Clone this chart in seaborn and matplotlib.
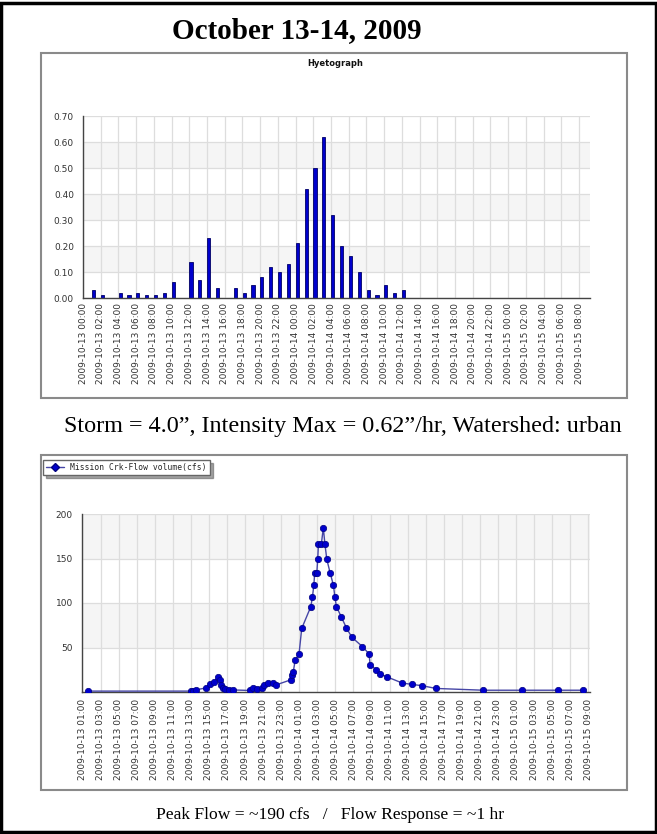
import numpy as np
import pandas as pd
import seaborn as sns
import matplotlib.pyplot as plt
from matplotlib.patches import Rectangle
from matplotlib.lines import Line2D
from matplotlib.ticker import MultipleLocator

# Hyetograph: hourly rainfall (in) from 2009-10-13 00:00
rain_hours = list(range(0, 57))
rain_in = [0.00, 0.03, 0.01, 0.00, 0.02, 0.01, 0.02, 0.01, 0.01, 0.02,
           0.06, 0.00, 0.14, 0.07, 0.23, 0.04, 0.00, 0.04, 0.02, 0.05,
           0.08, 0.12, 0.10, 0.13, 0.21, 0.42, 0.50, 0.62, 0.32, 0.20,
           0.16, 0.10, 0.03, 0.01, 0.05, 0.02, 0.03, 0.00, 0.00, 0.00,
           0.00, 0.00, 0.00, 0.00, 0.00, 0.00, 0.00, 0.00, 0.00, 0.00,
           0.00, 0.00, 0.00, 0.00, 0.00, 0.00, 0.00]

# Mission Creek flow (cfs), hours after 2009-10-13 00:00
flow_hours = [1.65, 13.0, 13.25, 13.6, 14.65, 15.1, 15.55, 16.0, 16.2, 16.35,
              16.55, 16.8, 17.25, 17.7, 19.55, 19.9, 20.3, 20.9, 21.05, 21.5,
              22.05, 22.45, 24.05, 24.17, 24.35, 24.55, 24.98, 25.28, 26.29, 26.47,
              26.62, 26.72, 26.95, 27.05, 27.13, 27.45, 27.67, 27.85, 28.06, 28.42,
              28.79, 28.95, 29.12, 29.68, 30.23, 30.83, 32.0, 32.74, 32.85, 33.55,
              33.96, 34.77, 36.43, 37.54, 38.65, 40.13, 45.39, 49.64, 53.7, 56.46]
flow_cfs = [1, 1, 1.5, 2.5, 4.5, 9.3, 10.8, 16.8, 13, 8,
            5, 3, 2.3, 2.3, 1.7, 4, 3, 4.7, 8, 10.6,
            10.4, 8, 13.6, 19, 23, 35.5, 42.6, 71.4, 96, 107,
            120, 134, 134, 149, 166, 166, 184.5, 166, 149, 134,
            120, 107, 96, 84, 72, 61.5, 51, 42.8, 30.5, 25,
            20.5, 16.8, 10, 8.5, 7, 4, 2, 2, 2, 2]

top_labels = pd.date_range("2009-10-13 00:00", periods=29, freq="2h").strftime("%Y-%m-%d %H:%M")
bot_labels = pd.date_range("2009-10-13 01:00", periods=29, freq="2h").strftime("%Y-%m-%d %H:%M")

sns.set_style("white")
plt.rcParams["font.family"] = ["DejaVu Sans"]

W, H = 657, 834
fig = plt.figure(figsize=(W / 100, H / 100), dpi=100)


def fx(px):
    return px / W


def fy(py):
    return 1 - py / H


def style_axes(ax, bands):
    for lo, hi in bands:
        ax.axhspan(lo, hi, color="#f5f5f5", zorder=0, lw=0)
    ax.grid(True, color="#dddddd", lw=0.9, zorder=0.5)
    ax.set_axisbelow(True)
    for s in ["top", "right"]:
        ax.spines[s].set_visible(False)
    for s in ["left", "bottom"]:
        ax.spines[s].set_color("#444444")
        ax.spines[s].set_linewidth(1.0)
    ax.tick_params(axis="both", labelsize=6.5, colors="#333333", length=3, width=0.8)
    ax.tick_params(axis="both", which="minor", length=2, width=0.8, colors="#333333")
    ax.set_xlabel("")
    ax.set_ylabel("")


# panel frames and outer border
for top, bot in [(53, 398), (455, 790)]:
    fig.patches.append(Rectangle((fx(41), fy(bot)), fx(627) - fx(41), fy(top) - fy(bot),
                                 transform=fig.transFigure, fill=False, ec="#8a8a8a", lw=1.5))
fig.patches.append(Rectangle((0.002, 0.002), 0.996, 0.995, transform=fig.transFigure,
                             fill=False, ec="black", lw=2.5))

# ---- Hyetograph ----
ax1 = fig.add_axes([fx(83), fy(298), fx(590) - fx(83), fy(116) - fy(298)])
sns.barplot(x=rain_hours, y=rain_in, native_scale=True, width=0.36, color="#0000cc",
            edgecolor="#000066", linewidth=0.6, saturation=1, ax=ax1)
for p in ax1.patches:
    p.set_x(p.get_x() + 0.19)
style_axes(ax1, [(0.1, 0.2), (0.3, 0.4), (0.5, 0.6)])
ax1.set_xlim(0, 57.24)
ax1.set_ylim(0, 0.70)
ax1.set_yticks(np.arange(0, 0.71, 0.1))
ax1.set_yticklabels([f"{v:.2f}" for v in np.arange(0, 0.71, 0.1)])
ax1.yaxis.set_minor_locator(MultipleLocator(0.05))
ax1.set_xticks(range(0, 57, 2))
ax1.set_xticklabels(top_labels, rotation=90)
ax1.xaxis.set_minor_locator(MultipleLocator(1))
ax1.tick_params(axis="x", which="both", direction="in")
fig.text(fx(335), fy(64), "Hyetograph", ha="center", va="center", fontsize=6,
         fontweight="bold", color="#111111")

# ---- Flow ----
ax2 = fig.add_axes([fx(82), fy(692), fx(590) - fx(82), fy(514) - fy(692)])
sns.lineplot(x=flow_hours, y=flow_cfs, color="#4646a6", lw=1.0, marker="o", markersize=4.6,
             markerfacecolor="#0000cc", markeredgecolor="#000080", markeredgewidth=0.5,
             ax=ax2, zorder=3)
style_axes(ax2, [(50, 100), (150, 200)])
ax2.set_xlim(0.95, 57.2)
ax2.set_ylim(0, 200)
ax2.set_yticks([50, 100, 150, 200])
ax2.yaxis.set_minor_locator(MultipleLocator(10))
ax2.set_xticks(range(1, 58, 2))
ax2.set_xticklabels(bot_labels, rotation=90)
ax2.xaxis.set_minor_locator(MultipleLocator(1))
ax2.tick_params(axis="x", which="both", direction="inout")

handle = Line2D([], [], color="#4646a6", lw=1.0, marker="D", markersize=4,
                markerfacecolor="#0000cc", markeredgecolor="#000080")
ax2.legend(handles=[handle], labels=["Mission Crk-Flow volume(cfs)"], loc="upper left",
           bbox_to_anchor=(fx(43), fy(460)), bbox_transform=fig.transFigure,
           frameon=True, fancybox=False, shadow=True, edgecolor="#666666",
           prop={"family": "DejaVu Sans Mono", "size": 5.8}, borderpad=0.4,
           handlelength=2.2, handletextpad=0.8, borderaxespad=0)

# ---- captions ----
serif = "Liberation Serif"
fig.text(fx(297), fy(31), "October 13-14, 2009", ha="center", va="center",
         fontsize=21, fontweight="bold", family=serif, color="black")
fig.text(fx(343), fy(426), "Storm = 4.0\u201d, Intensity Max = 0.62\u201d/hr, Watershed: urban",
         ha="center", va="center", fontsize=17.4, family=serif, color="black")
fig.text(fx(330), fy(815), "Peak Flow = ~190 cfs   /   Flow Response = ~1 hr",
         ha="center", va="center", fontsize=12.6, family=serif, color="black")

fig.savefig("out.png", dpi=100)
